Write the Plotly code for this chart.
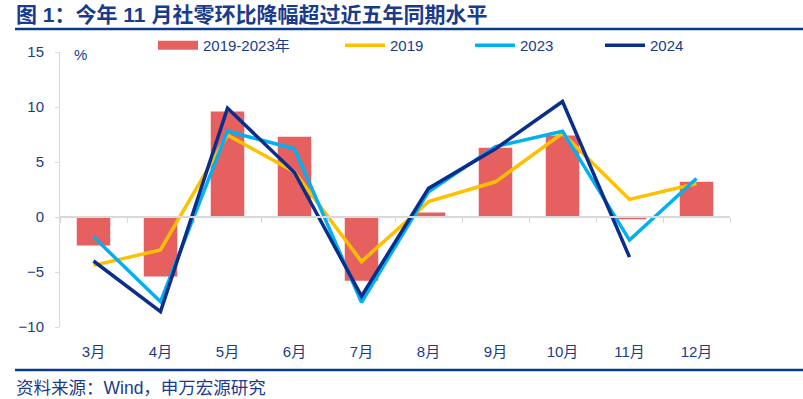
import plotly.graph_objects as go

months = ["3月", "4月", "5月", "6月", "7月", "8月", "9月", "10月", "11月", "12月"]
avg_2019_2023 = [-2.6, -5.4, 9.6, 7.3, -5.8, 0.4, 6.3, 7.4, -0.2, 3.2]
y2019 = [-4.4, -3.0, 7.45, 4.1, -4.05, 1.4, 3.2, 7.6, 1.6, 3.05]
y2023 = [-1.8, -7.7, 7.8, 6.2, -7.75, 2.3, 6.4, 7.8, -2.1, 3.5]
y2024 = [-4.0, -8.6, 9.9, 4.05, -7.2, 2.6, 6.2, 10.5, -3.65, None]
y_ticks = [-10, -5, 0, 5, 10, 15]

NAVY_TXT = "#1A3B8C"
RED = "#E66060"
YELLOW = "#FFC000"
CYAN = "#00B0F0"
NAVY = "#0A2E8A"
GRID = "#D9D9D9"
FONT = "Liberation Sans, Arial, Noto Sans CJK SC, sans-serif"

W, H = 803, 399
L, R, T, B = 60, 73, 52, 72
pw, ph = W - L - R, H - T - B

def px_x(x):
    return (x - L) / pw

def px_y(y):
    return (H - B - y) / ph

fig = go.Figure()
fig.add_trace(go.Bar(x=months, y=avg_2019_2023, name="2019-2023年", marker_color=RED,
                     marker_line_width=0, showlegend=False))
# legend proxy for the bar series (wide rectangle like the original)
fig.add_trace(go.Scatter(x=[None], y=[None], mode="lines", name="2019-2023年",
                         line=dict(color=RED, width=9), legend="legend"))
fig.add_trace(go.Scatter(x=months, y=y2019, mode="lines", name="2019",
                         line=dict(color=YELLOW, width=3.5), legend="legend2"))
fig.add_trace(go.Scatter(x=months, y=y2023, mode="lines", name="2023",
                         line=dict(color=CYAN, width=3.5), legend="legend3"))
fig.add_trace(go.Scatter(x=months, y=y2024, mode="lines", name="2024",
                         line=dict(color=NAVY, width=3.5), legend="legend4"))

def leg(xpx):
    return dict(orientation="h", x=px_x(xpx), y=px_y(29), xanchor="left", yanchor="top",
                itemwidth=40, font=dict(size=15, color=NAVY_TXT),
                bgcolor="rgba(0,0,0,0)")

fig.update_layout(
    width=W, height=H,
    margin=dict(l=L, r=R, t=T, b=B, autoexpand=False),
    paper_bgcolor="white", plot_bgcolor="white",
    font=dict(family=FONT, color=NAVY_TXT, size=14),
    bargap=0.5,
    showlegend=True,
    legend=leg(153), legend2=leg(340), legend3=leg(470), legend4=leg(600),
    title=dict(text="<b>图 1：今年 11 月社零环比降幅超过近五年同期水平</b>",
               xref="container", yref="container", x=16 / W, y=1 - 15 / H,
               xanchor="left", yanchor="middle",
               font=dict(size=21, color=NAVY_TXT, family=FONT)),
    xaxis=dict(type="category", range=[-0.5, len(months) - 0.5], showline=False,
               ticks="", showgrid=False, zeroline=False, ticklabelstandoff=14,
               tickfont=dict(size=15, color=NAVY_TXT)),
    xaxis2=dict(type="category", matches="x", overlaying="x", anchor="free",
                position=(0 - y_ticks[0]) / (y_ticks[-1] - y_ticks[0]),
                showticklabels=False, ticks="outside", tickson="boundaries",
                ticklen=5, tickcolor=GRID, showline=True, linecolor=GRID,
                linewidth=1.5, showgrid=False, zeroline=False),
    yaxis=dict(range=[y_ticks[0], y_ticks[-1]], tickvals=y_ticks, showgrid=False,
               zeroline=False, showline=True, linecolor=GRID, linewidth=1,
               ticks="outside", ticklen=4, tickcolor=GRID, ticklabelstandoff=8,
               tickfont=dict(size=15, color=NAVY_TXT)),
)

# invisible trace on xaxis2 so it is rendered
fig.add_trace(go.Scatter(x=months, y=[None] * len(months), xaxis="x2", mode="lines",
                         showlegend=False, hoverinfo="skip"))

fig.add_annotation(text="%", xref="paper", yref="paper", x=px_x(72), y=px_y(55),
                   xanchor="left", yanchor="middle", showarrow=False,
                   font=dict(size=15, color=NAVY_TXT))
fig.add_annotation(text="资料来源：Wind，申万宏源研究", xref="paper", yref="paper",
                   x=px_x(14), y=px_y(388), xanchor="left", yanchor="middle",
                   showarrow=False, font=dict(size=17.5, color=NAVY_TXT))
for yy in (29, 370):
    fig.add_shape(type="line", xref="paper", yref="paper", x0=px_x(15), x1=px_x(803),
                  y0=px_y(yy), y1=px_y(yy), line=dict(color="#0A3A8E", width=2.5))

fig.write_html("out.html", config={"displayModeBar": False},
               post_script="document.body.style.margin='0px';")
